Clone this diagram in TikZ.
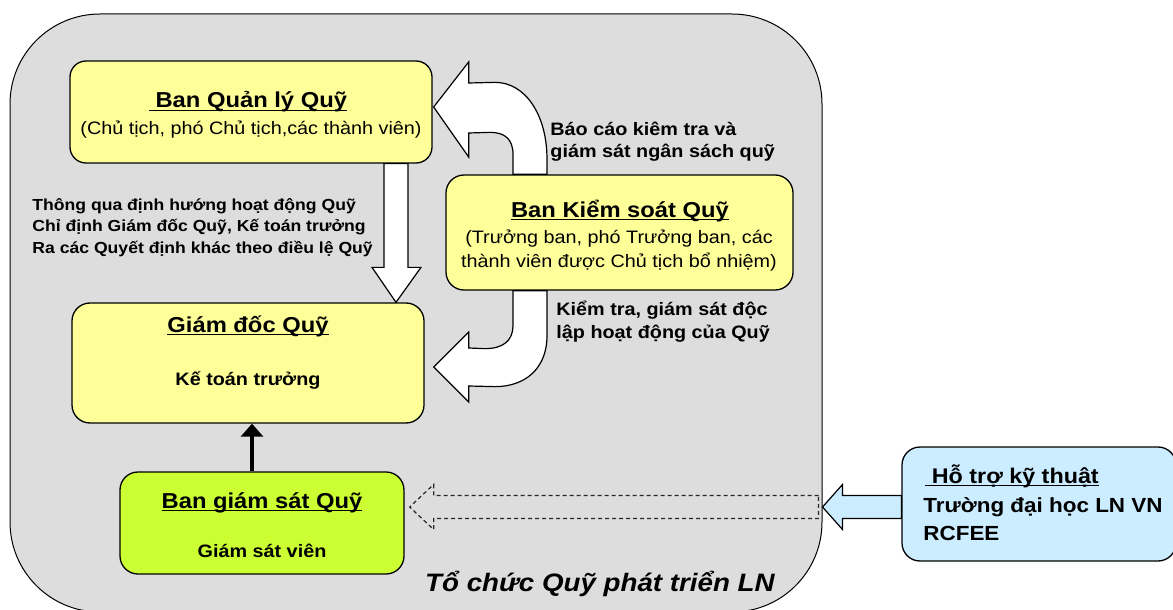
\documentclass[tikz,border=0pt]{standalone}
\usepackage{fontspec}
\setmainfont{Liberation Sans}[FakeStretch=1.1]
\usetikzlibrary{calc,arrows.meta}
\definecolor{fundgray}{HTML}{DDDDDD}
\definecolor{boxyellow}{HTML}{FFFF99}
\definecolor{boxlime}{HTML}{CCFF33}
\definecolor{boxblue}{HTML}{CCECFF}
\tikzstyle{unitbox}=[draw=black,line width=0.65pt,rounded corners=8pt,inner sep=0pt]
\tikzstyle{blockarrow}=[draw=black,line width=0.6pt,fill=white,line join=miter]
\tikzstyle{dashedarrow}=[draw=black!85,line width=0.6pt,dash pattern=on 2pt off 1.5pt]
\tikzstyle{headtext}=[font=\fontsize{10.8}{13}\selectfont\bfseries,inner sep=0pt,anchor=base]
\tikzstyle{subtext}=[font=\fontsize{9}{11}\selectfont,inner sep=0pt,anchor=base]
\tikzstyle{boldsub}=[font=\fontsize{9}{11}\selectfont\bfseries,inner sep=0pt,anchor=base]
\tikzstyle{notetext}=[font=\fontsize{9}{11}\selectfont\bfseries,inner sep=0pt,anchor=base west]
\tikzstyle{leftnote}=[font=\fontsize{8}{10}\selectfont\bfseries,inner sep=0pt,anchor=base west]
\tikzstyle{helptext}=[font=\fontsize{10.2}{13}\selectfont\bfseries,inner sep=0pt,anchor=base west]
\newcommand{\uhead}[1]{\underline{\smash{#1}}} % underline just below the baseline
\begin{document}
\begin{tikzpicture}[x=0.5pt,y=-0.5pt] % one unit = one pixel of the reference
\useasboundingbox (0,0) rectangle (1173,610);
% the fund
\node[unitbox,fill=fundgray,line width=0.5pt,rounded corners=45pt,minimum width=406pt,minimum height=299pt] (fund) at (416,313) {};
% units
\node[unitbox,fill=boxyellow,minimum width=181pt,minimum height=51pt] (qly) at (251,112) {};
\node[unitbox,fill=boxyellow,rounded corners=9pt,minimum width=173.5pt,minimum height=57.5pt] (ksoat) at (619.5,232.5) {};
\node[unitbox,fill=boxyellow,rounded corners=9pt,minimum width=176pt,minimum height=60pt] (gdoc) at (248,363) {};
\node[unitbox,fill=boxlime,rounded corners=9pt,minimum width=142pt,minimum height=51pt] (gsat) at (262,523) {};
\node[unitbox,fill=boxblue,rounded corners=9pt,minimum width=137pt,minimum height=57pt] (hotro) at (1039,504) {};

% qly -> gdoc
\coordinate (dnTop) at (396,0 |- qly.south);
\coordinate (dnTip) at (396,0 |- gdoc.north);
\draw[blockarrow] ($(dnTop)+(-12,0)$) -- ($(dnTip)+(-12,-35)$) -- ($(dnTip)+(-24,-35)$) -- (dnTip)
  -- ($(dnTip)+(25,-35)$) -- ($(dnTip)+(12,-35)$) -- ($(dnTop)+(12,0)$) -- cycle;

% ksoat -> qly
\coordinate (upTail) at (530,0 |- ksoat.north);
\coordinate (upTip) at ($(qly.east)+(1,-5)$);
\draw[blockarrow] ($(upTail)+(17,0)$) -- ($(upTail)+(17,-15)$)
  .. controls ($(upTail)+(17,-60)$) and ($(upTail)+(-5,-92)$) .. ($(upTail)+(-35,-92)$)
  -- ($(upTip)+(35,-24)$) -- ($(upTip)+(35,-45)$) -- (upTip) -- ($(upTip)+(35,50)$) -- ($(upTip)+(35,26)$)
  -- ($(upTail)+(-40,-42)$) .. controls ($(upTail)+(-25,-42)$) and ($(upTail)+(-17,-35)$) .. ($(upTail)+(-17,-20)$)
  -- ($(upTail)+(-17,0)$) -- cycle;

% ksoat -> gdoc
\coordinate (downTail) at (530,0 |- ksoat.south);
\coordinate (gdTip) at ($(gdoc.east)+(9,4)$);
\draw[blockarrow] ($(downTail)+(17,0)$) -- ($(downTail)+(17,45)$)
  .. controls ($(downTail)+(17,78)$) and ($(downTail)+(-5,96)$) .. ($(downTail)+(-35,96)$)
  -- ($(gdTip)+(35,19)$) -- ($(gdTip)+(35,35)$) -- (gdTip) -- ($(gdTip)+(35,-35)$) -- ($(gdTip)+(35,-19)$)
  -- ($(downTail)+(-45,58)$) .. controls ($(downTail)+(-27,58)$) and ($(downTail)+(-17,50)$) .. ($(downTail)+(-17,35)$)
  -- ($(downTail)+(-17,0)$) -- cycle;

% gsat -> gdoc
\draw[-{Triangle[width=11pt,length=6.5pt]},line width=2.4pt] (252,0 |- gsat.north) -- (252,0 |- gdoc.south);

% hotro -> fund, then on to gsat
\coordinate (hoBase) at ($(hotro.west)+(0,3)$);
\coordinate (hoTip) at (fund.east |- hoBase);
\draw[blockarrow,fill=boxblue] ($(hoBase)+(0,-11.5)$) -- ($(hoTip)+(20,-11.5)$) -- ($(hoTip)+(20,-22.5)$) -- (hoTip)
  -- ($(hoTip)+(20,22.5)$) -- ($(hoTip)+(20,11.5)$) -- ($(hoBase)+(0,11.5)$) -- cycle;
\coordinate (dsTail) at ($(hoTip)+(-4,0)$);
\coordinate (dsTip) at ($(gsat.east)+(5,-16)$);
\draw[dashedarrow] ($(dsTail)+(0,-11.5)$) -- ($(dsTip)+(24,-11.5)$) -- ($(dsTip)+(24,-22.5)$) -- (dsTip)
  -- ($(dsTip)+(24,22.5)$) -- ($(dsTip)+(24,11.5)$) -- ($(dsTail)+(0,11.5)$) -- cycle;

% texts
\node[headtext] (qlyHead) at (248,108) {\uhead{\ Ban Quản lý Quỹ}};
\node[subtext] (qlySub) at (251,134) {(Chủ tịch, phó Chủ tịch,các thành viên)};
\node[headtext] (ksHead) at (620,217) {\uhead{Ban Kiểm soát Quỹ}};
\node[subtext] (ksSubA) at (619,243) {(Trưởng ban, phó Trưởng ban, các};
\node[subtext] (ksSubB) at (619,267) {thành viên được Chủ tịch bổ nhiệm)};
\node[headtext] (gdHead) at (248,332) {\uhead{Giám đốc Quỹ}};
\node[boldsub] (gdSub) at (248,385) {Kế toán trưởng};
\node[headtext] (gsHead) at (262,508) {\uhead{Ban giám sát Quỹ}};
\node[boldsub] (gsSub) at (262,557) {Giám sát viên};
\node[helptext,font=\fontsize{10.6}{13}\selectfont\bfseries] (hoHead) at (925,483) {\uhead{\ Hỗ trợ kỹ thuật}};
\node[helptext] (hoLineA) at (923,512) {Trường đại học LN VN};
\node[helptext] (hoLineB) at (923,540) {RCFEE};
\node[font=\fontsize{12.6}{15}\selectfont\bfseries\itshape,inner sep=0pt,anchor=base east] (fundName) at (775,591) {Tổ chức Quỹ phát triển LN};

\foreach \txt [count=\i] in {Thông qua định hướng hoạt động Quỹ, {Chỉ định Giám đốc Quỹ, Kế toán trưởng}, Ra các Quyết định khác theo điều lệ Quỹ}
  \node[leftnote] (dirNote\i) at (32,{210+21.5*(\i-1)}) {\txt};
\node[notetext] (reportA) at (550,135) {Báo cáo kiêm tra và};
\node[notetext] (reportB) at (550,158) {giám sát ngân sách quỹ};
\node[notetext] (checkA) at (556,315) {Kiểm tra, giám sát độc};
\node[notetext] (checkB) at (556,338) {lập hoạt động của Quỹ};
\end{tikzpicture}
\end{document}
